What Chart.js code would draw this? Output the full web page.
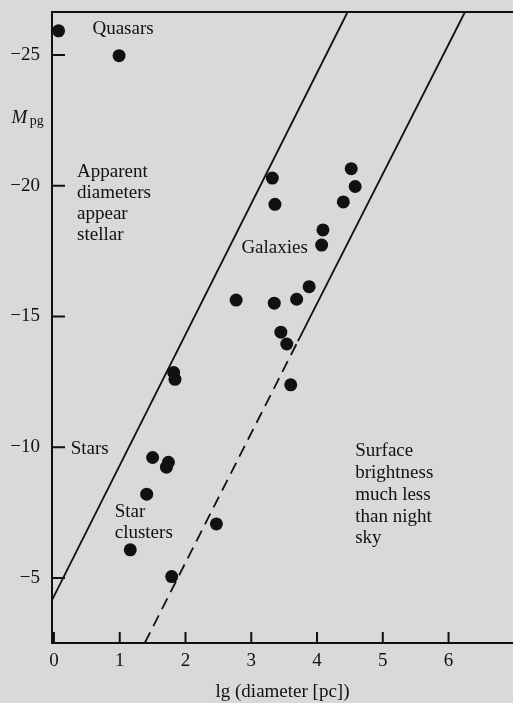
<!DOCTYPE html>
<html>
<head>
<meta charset="utf-8">
<script src="https://cdn.jsdelivr.net/npm/chart.js@4.4.1/dist/chart.umd.min.js"></script>
<style>
  html, body { margin: 0; padding: 0; background: #d9d9d9; }
</style>
</head>
<body>
<canvas id="size-chart" width="513" height="703"></canvas>
<script>
// lg(diameter [pc]) and photographic absolute magnitude
const quasarLg = [0.07, 0.99];
const quasarM = [-25.92, -24.97];

const galaxyLg = [3.32, 3.36, 4.52, 4.58, 4.40, 4.09, 4.07, 3.88, 2.77, 3.35, 3.69, 3.45, 3.54, 3.60];
const galaxyM = [-20.29, -19.29, -20.65, -19.97, -19.38, -18.31, -17.73, -16.14, -15.63, -15.51, -15.66, -14.40, -13.95, -12.39];

const clusterLg = [1.82, 1.84, 1.50, 1.74, 1.71, 1.41, 2.47, 1.16, 1.79];
const clusterM = [-12.86, -12.60, -9.61, -9.43, -9.24, -8.21, -7.07, -6.08, -5.06];

// boundary lines (end points)
const upperLineLg = [-0.03, 4.465];
const upperLineM = [-4.16, -26.64];
const lowerSolidLg = [3.71, 6.25];
const lowerSolidM = [-14.06, -26.64];
const lowerDashLg = [1.38, 3.71];
const lowerDashM = [-2.52, -14.06];

const xTicks = [0, 1, 2, 3, 4, 5, 6];
const yTicks = [-25, -20, -15, -10, -5];

// text labels placed in data coordinates
const notes = [
  { text: 'Quasars', lg: 0.585, m: -25.99 },
  { text: 'Apparent', lg: 0.351, m: -20.54 },
  { text: 'diameters', lg: 0.351, m: -19.72 },
  { text: 'appear', lg: 0.351, m: -18.92 },
  { text: 'stellar', lg: 0.351, m: -18.12 },
  { text: 'Galaxies', lg: 2.85, m: -17.61 },
  { text: 'Stars', lg: 0.255, m: -9.94 },
  { text: 'Star', lg: 0.924, m: -7.54 },
  { text: 'clusters', lg: 0.924, m: -6.74 },
  { text: 'Surface', lg: 4.58, m: -9.84 },
  { text: 'brightness', lg: 4.58, m: -9.02 },
  { text: 'much less', lg: 4.58, m: -8.18 },
  { text: 'than night', lg: 4.58, m: -7.35 },
  { text: 'sky', lg: 4.58, m: -6.53 },
];

const toPts = (xs, ys) => xs.map((v, i) => ({ x: v, y: ys[i] }));
const ink = '#111';
const serif = '"Liberation Serif", "Times New Roman", serif';

const decor = {
  id: 'decor',
  beforeDraw(chart) {
    const ctx = chart.ctx;
    ctx.save();
    ctx.fillStyle = '#d9d9d9';
    ctx.fillRect(0, 0, chart.width, chart.height);
    ctx.restore();
  },
  afterDraw(chart) {
    const { ctx, chartArea, scales } = chart;
    const x = scales.x, y = scales.y;
    ctx.save();
    ctx.strokeStyle = ink;
    ctx.lineWidth = 2;
    ctx.beginPath();
    ctx.moveTo(chartArea.left - 1, chartArea.top);
    ctx.lineTo(chartArea.right, chartArea.top);
    // ticks point inward
    x.ticks.forEach(t => {
      const px = x.getPixelForValue(t.value);
      ctx.moveTo(px, chartArea.bottom);
      ctx.lineTo(px, chartArea.bottom - 11);
    });
    y.ticks.forEach(t => {
      const py = y.getPixelForValue(t.value);
      ctx.moveTo(chartArea.left, py);
      ctx.lineTo(chartArea.left + 13, py);
    });
    ctx.stroke();

    ctx.fillStyle = ink;
    ctx.textBaseline = 'middle';
    ctx.textAlign = 'left';
    ctx.font = '19px ' + serif;
    notes.forEach(n => ctx.fillText(n.text, x.getPixelForValue(n.lg), y.getPixelForValue(n.m)));

    // y axis title: M with subscript pg
    ctx.font = 'italic 19px ' + serif;
    ctx.fillText('M', x.getPixelForValue(-0.646), y.getPixelForValue(-22.59));
    ctx.font = '14px ' + serif;
    ctx.fillText('pg', x.getPixelForValue(-0.368), y.getPixelForValue(-22.45));
    ctx.restore();
  }
};

const dotStyle = {
  showLine: false,
  pointRadius: 6.5,
  pointBackgroundColor: ink,
  pointBorderWidth: 0,
  order: 0,
  clip: false,
};
const lineStyle = {
  showLine: true,
  pointRadius: 0,
  borderColor: ink,
  borderWidth: 1.8,
  order: 1,
  clip: false,
};

new Chart(document.getElementById('size-chart').getContext('2d'), {
  type: 'scatter',
  data: {
    datasets: [
      { label: 'Quasars', data: toPts(quasarLg, quasarM), ...dotStyle },
      { label: 'Galaxies', data: toPts(galaxyLg, galaxyM), ...dotStyle },
      { label: 'Stars and star clusters', data: toPts(clusterLg, clusterM), ...dotStyle },
      { label: 'upper', data: toPts(upperLineLg, upperLineM), ...lineStyle },
      { label: 'lower', data: toPts(lowerSolidLg, lowerSolidM), ...lineStyle },
      { label: 'lower dashed', data: toPts(lowerDashLg, lowerDashM), ...lineStyle, borderDash: [12, 7] },
    ],
  },
  options: {
    responsive: false,
    devicePixelRatio: 1,
    animation: false,
    layout: { autoPadding: false, padding: { top: 12, left: 0, right: 0, bottom: 0 } },
    plugins: { legend: { display: false }, tooltip: { enabled: false } },
    scales: {
      x: {
        type: 'linear',
        min: -0.03,
        max: 6.98,
        afterFit: s => { s.height = 60; s.paddingLeft = 0; s.paddingRight = 0; },
        afterBuildTicks: s => { s.ticks = xTicks.map(v => ({ value: v })); },
        grid: { display: true, drawOnChartArea: false, drawTicks: false },
        border: { display: true, color: ink, width: 2 },
        ticks: { color: ink, padding: 7, font: { family: serif, size: 19 }, maxRotation: 0 },
        title: {
          display: true,
          text: 'lg (diameter [pc])',
          color: ink,
          font: { family: serif, size: 19 },
          padding: { top: 0, bottom: 0 },
        },
      },
      y: {
        type: 'linear',
        reverse: true,
        min: -26.64,
        max: -2.52,
        afterFit: s => { s.width = 52; s.paddingTop = 0; s.paddingBottom = 0; },
        afterBuildTicks: s => { s.ticks = yTicks.map(v => ({ value: v })); },
        grid: { display: true, drawOnChartArea: false, drawTicks: false },
        border: { display: true, color: ink, width: 2 },
        ticks: {
          color: ink,
          padding: 12,
          font: { family: serif, size: 19 },
          callback: v => (v < 0 ? '\u2212' + Math.abs(v) : String(v)),
        },
      },
    },
  },
  plugins: [decor],
});
</script>
</body>
</html>
